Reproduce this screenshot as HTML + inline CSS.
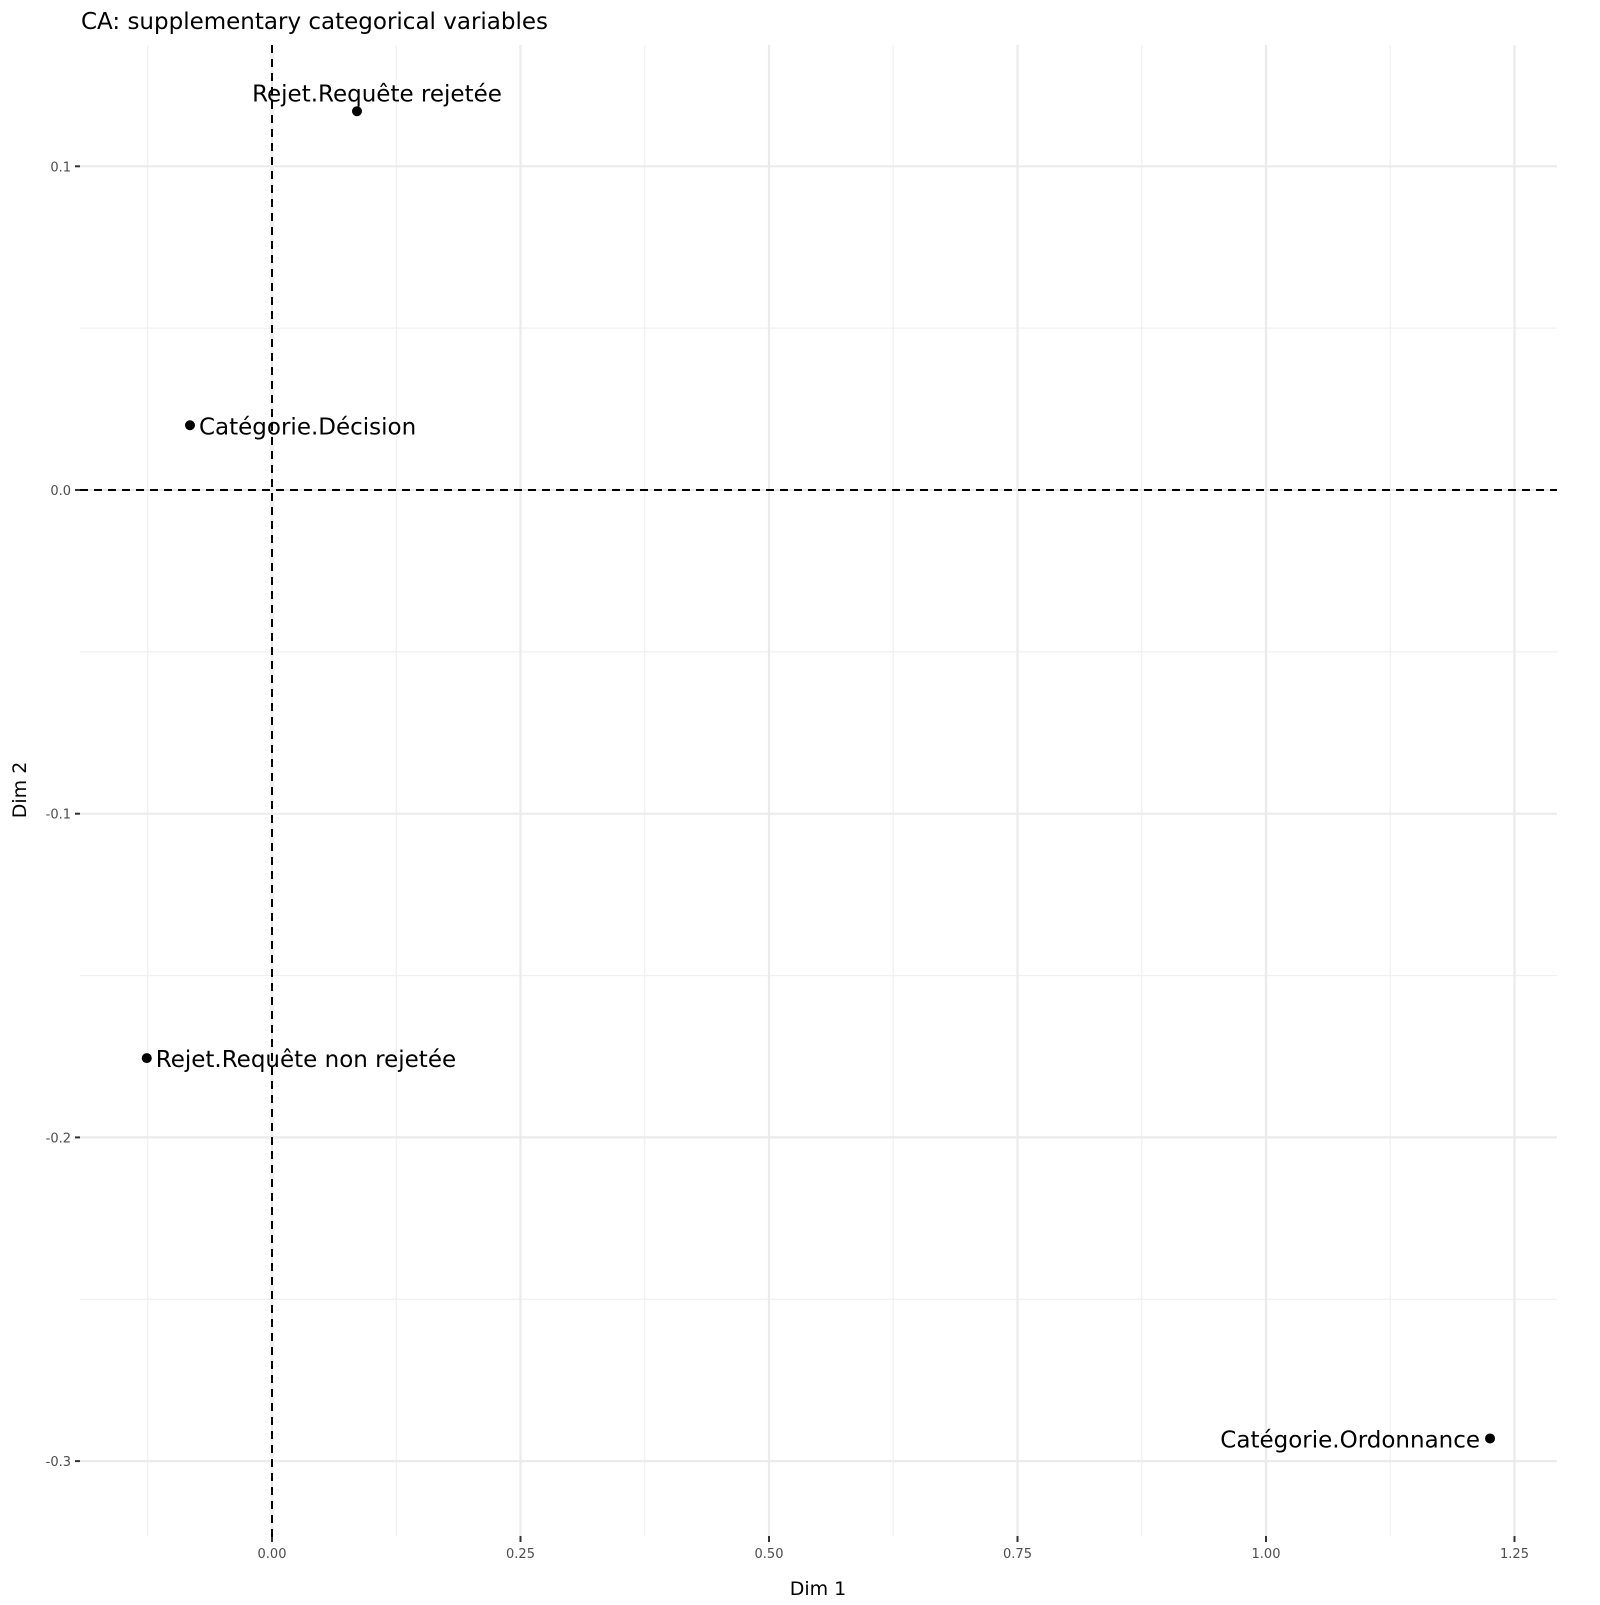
<!DOCTYPE html>
<html><head><meta charset="utf-8"><style>
body{margin:0;background:#fff}
svg text{font-family:"DejaVu Sans","Liberation Sans",sans-serif}
</style></head><body>
<svg id="chart" width="1600" height="1600" xmlns="http://www.w3.org/2000/svg">
<text x="81" y="29" font-size="23" fill="#000">CA: supplementary categorical variables</text>
<g id="grid"></g><g id="axes"></g><g id="marks"></g>
<text x="818" y="1595" font-size="19" text-anchor="middle">Dim 1</text>
<text transform="translate(26,790) rotate(-90)" font-size="19" text-anchor="middle">Dim 2</text>
</svg>
<script>
const labels=["Rejet.Requête rejetée","Catégorie.Décision","Rejet.Requête non rejetée","Catégorie.Ordonnance"];
const dim1=[0.0855,-0.0825,-0.126,1.2254];
const dim2=[0.117,0.020,-0.1755,-0.293];
const xTicks=[0,0.25,0.5,0.75,1.0,1.25];
const xTickLabels=["0.00","0.25","0.50","0.75","1.00","1.25"];
const yTicks=[0.1,0,-0.1,-0.2,-0.3];
const yTickLabels=["0.1","0.0","-0.1","-0.2","-0.3"];
const L=80,R=1557,T=45,B=1536;
const sx=v=>272+v*994, sy=v=>490-v*3237;
const NS="http://www.w3.org/2000/svg";
function mk(p,t,a){const e=document.createElementNS(NS,t);for(const k in a)e.setAttribute(k,a[k]);p.appendChild(e);return e;}
const grid=document.getElementById('grid'),axes=document.getElementById('axes'),marks=document.getElementById('marks');
// minor grid
[-0.125,0.125,0.375,0.625,0.875,1.125].forEach(v=>{const l=mk(grid,'line',{x1:sx(v),x2:sx(v),y1:T,y2:B,stroke:'#f0f0f0','stroke-width':1.2});

});
[0.05,-0.05,-0.15,-0.25].forEach(v=>{const l=mk(grid,'line',{x1:L,x2:R,y1:sy(v),y2:sy(v),stroke:'#f0f0f0','stroke-width':1.2});

});
xTicks.forEach((v,i)=>{const l=mk(grid,'line',{x1:sx(v),x2:sx(v),y1:T,y2:B,stroke:'#ebebeb','stroke-width':2.2});


const tk=mk(axes,'line',{x1:sx(v),x2:sx(v),y1:B,y2:B+6,stroke:'#333','stroke-width':2});


const t=mk(axes,'text',{x:sx(v),y:B+22,'font-size':13,fill:'#4d4d4d','text-anchor':'middle'});t.textContent=xTickLabels[i];

});
yTicks.forEach((v,i)=>{const l=mk(grid,'line',{x1:L,x2:R,y1:sy(v),y2:sy(v),stroke:'#ebebeb','stroke-width':2.2});


const tk=mk(axes,'line',{x1:L-5,x2:L,y1:sy(v),y2:sy(v),stroke:'#333','stroke-width':2});


const t=mk(axes,'text',{x:L-9,y:sy(v)+5,'font-size':13,fill:'#4d4d4d','text-anchor':'end'});t.textContent=yTickLabels[i];

});
const h=mk(axes,'line',{x1:L,x2:R,y1:sy(0),y2:sy(0),stroke:'#000','stroke-width':2,'stroke-dasharray':'8,6'});


const vl=mk(axes,'line',{x1:sx(0),x2:sx(0),y1:T,y2:B+6,stroke:'#000','stroke-width':2,'stroke-dasharray':'8,6'});


const pos=['top','right','right','left'];
labels.forEach((lab,i)=>{const x=sx(dim1[i]),y=sy(dim2[i]);
const c=mk(marks,'circle',{cx:x,cy:y,r:5,fill:'#000'});


let a={'font-size':23,fill:'#000'};
if(pos[i]=='top'){a.x=x+20;a.y=y-10;a['text-anchor']='middle';}
else if(pos[i]=='right'){a.x=x+9;a.y=y+9;}
else{a.x=x-10;a.y=y+9;a['text-anchor']='end';}
const t=mk(marks,'text',a);t.textContent=lab;

});
</script>
</body></html>
